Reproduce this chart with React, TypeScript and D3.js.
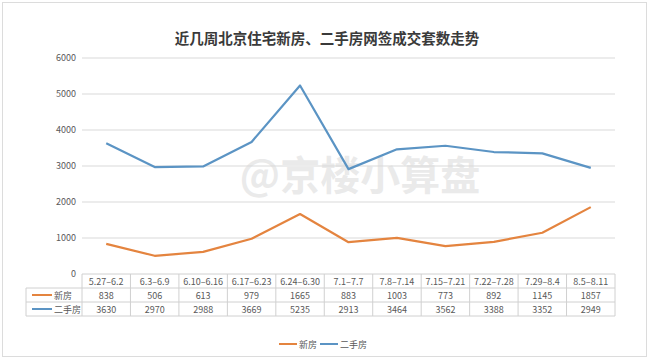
import * as d3 from 'd3';

const WEEKS = ['5.27–6.2', '6.3–6.9', '6.10–6.16', '6.17–6.23', '6.24–6.30', '7.1–7.7', '7.8–7.14', '7.15–7.21', '7.22–7.28', '7.29–8.4', '8.5–8.11'];
const NEW_HOMES = [838, 506, 613, 979, 1665, 883, 1003, 773, 892, 1145, 1857];
const RESALE = [3630, 2970, 2988, 3669, 5235, 2913, 3464, 3562, 3388, 3352, 2949];
const Y_TICKS = [0, 1000, 2000, 3000, 4000, 5000, 6000];

const W = 650;
const H = 359;
const LEFT = 82;
const RIGHT = 615;
const TOP = 58;
const BOTTOM = 274;
const ROW_H = 14;
const FONT = '"Noto Sans CJK SC", "Noto Sans", sans-serif';

const ORANGE = '#E4843F';
const BLUE = '#5B94C4';

export default function App() {
  const x = d3.scaleBand<string>().domain(WEEKS).range([LEFT, RIGHT]);
  const y = d3.scaleLinear().domain([0, 6000]).range([BOTTOM, TOP]);
  const cx = (w: string) => (x(w) ?? 0) + x.bandwidth() / 2;

  const line = d3.line<number>()
    .x((_, i) => cx(WEEKS[i]))
    .y((d) => y(d));

  const series = [
    { name: '新房', values: NEW_HOMES, color: ORANGE },
    { name: '二手房', values: RESALE, color: BLUE },
  ];

  const tableTop = BOTTOM;
  const labelLeft = 26;

  return (
    <svg width={W} height={H} style={{ position: 'absolute', left: 0, top: 0, background: '#fff' }} fontFamily={FONT}>
      <rect x={2.5} y={2.5} width={W - 6} height={H - 5} fill="#fff" stroke="#dcdcdc" />

      <text x={327} y={44} textAnchor="middle" fontSize={14.5} fontWeight="bold" fill="#3a3a3a">
        近几周北京住宅新房、二手房网签成交套数走势
      </text>

      {/* watermark */}
      <text x={360} y={190} textAnchor="middle" fontSize={40} fontWeight="bold" fill="#777" opacity={0.15}>
        @京楼小算盘
      </text>

      {Y_TICKS.map((t) => (
        <g key={t}>
          {t > 0 && <line x1={LEFT} x2={RIGHT} y1={y(t)} y2={y(t)} stroke="#d9d9d9" strokeWidth={1} />}
          <text x={76} y={y(t) + 3} textAnchor="end" fontSize={9} fill="#595959">{t}</text>
        </g>
      ))}

      {series.map((s) => (
        <path key={s.name} d={line(s.values) ?? ''} fill="none" stroke={s.color} strokeWidth={2.2} strokeLinejoin="round" />
      ))}

      {/* data table */}
      <g stroke="#d0d0d0" strokeWidth={1} fill="none">
        <line x1={LEFT} x2={RIGHT} y1={tableTop} y2={tableTop} />
        <line x1={labelLeft} x2={RIGHT} y1={tableTop + ROW_H} y2={tableTop + ROW_H} />
        <line x1={labelLeft} x2={RIGHT} y1={tableTop + ROW_H * 2} y2={tableTop + ROW_H * 2} />
        <line x1={labelLeft} x2={RIGHT} y1={tableTop + ROW_H * 3} y2={tableTop + ROW_H * 3} />
        <line x1={labelLeft} x2={labelLeft} y1={tableTop + ROW_H} y2={tableTop + ROW_H * 3} />
        {WEEKS.map((w) => (
          <line key={w} x1={x(w)} x2={x(w)} y1={tableTop} y2={tableTop + ROW_H * 3} />
        ))}
        <line x1={RIGHT} x2={RIGHT} y1={tableTop} y2={tableTop + ROW_H * 3} />
      </g>
      {WEEKS.map((w, i) => (
        <g key={w} fontSize={9} fill="#595959" textAnchor="middle">
          <text x={cx(w)} y={tableTop + 10.5}>{w}</text>
          <text x={cx(w)} y={tableTop + ROW_H + 10.5}>{NEW_HOMES[i]}</text>
          <text x={cx(w)} y={tableTop + ROW_H * 2 + 10.5}>{RESALE[i]}</text>
        </g>
      ))}
      {series.map((s, i) => (
        <g key={s.name}>
          <line x1={32} x2={52} y1={tableTop + ROW_H * (i + 1) + 7} y2={tableTop + ROW_H * (i + 1) + 7} stroke={s.color} strokeWidth={2} />
          <text x={54} y={tableTop + ROW_H * (i + 1) + 10.5} fontSize={9} fill="#595959">{s.name}</text>
        </g>
      ))}

      {/* legend */}
      <g fontSize={9} fill="#595959">
        <line x1={279} x2={297} y1={344} y2={344} stroke={ORANGE} strokeWidth={2} />
        <text x={299} y={347.5}>新房</text>
        <line x1={320} x2={338} y1={344} y2={344} stroke={BLUE} strokeWidth={2} />
        <text x={340} y={347.5}>二手房</text>
      </g>
    </svg>
  );
}
